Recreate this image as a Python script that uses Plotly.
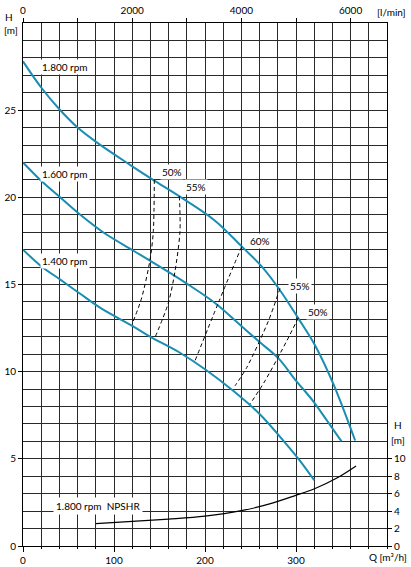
import plotly.graph_objects as go

# ---- data ----
q_1800 = [0, 20, 40, 60, 81, 118, 143, 172, 210, 240, 262, 282, 302, 321, 341, 365]
h_1800 = [27.8, 26.3, 25.05, 24.0, 23.15, 21.85, 21.0, 20.05, 18.7, 17.2, 16.05, 14.7, 13.1, 11.5, 9.3, 6.05]

q_1600 = [0, 20, 42, 63, 88, 121, 140, 180, 212, 235, 260, 281, 299, 319, 334, 350]
h_1600 = [22.0, 20.95, 19.95, 19.0, 18.0, 16.95, 16.35, 15.05, 13.9, 12.85, 11.7, 10.75, 9.55, 8.3, 7.2, 6.0]

q_1400 = [0, 20, 41, 62, 85, 121, 140, 172, 200, 231, 260, 290, 304, 320]
h_1400 = [17.0, 16.05, 15.28, 14.5, 13.66, 12.6, 12.0, 11.1, 10.14, 8.9, 7.57, 5.8, 4.91, 3.77]

q_npshr = [80, 120, 160, 200, 240, 270, 299, 321, 346, 366]
npshr = [2.57, 2.82, 3.08, 3.42, 4.05, 4.8, 5.78, 6.6, 7.85, 9.17]

eff_q = [
    [144.3, 143.2, 139.6, 130.4, 121.2],
    [171.8, 172.5, 167.0, 159.7, 145.0],
    [240.3, 214.6, 189.0],
    [282.4, 269.6, 245.8, 233.0],
    [302.5, 289.8, 265.9, 249.5],
]
eff_h = [
    [21.02, 18.04, 16.42, 14.23, 12.9],
    [20.07, 18.04, 15.75, 13.94, 11.95],
    [17.18, 13.94, 10.62],
    [14.78, 12.9, 10.23, 9.19],
    [13.09, 11.76, 9.47, 8.14],
]
eff_labels = ["50%", "55%", "60%", "55%", "50%"]
eff_label_q = [163.4, 190.0, 260.4, 304.4, 324.5]
eff_label_h = [21.46, 20.6, 17.52, 14.94, 13.43]

rpm_labels = ["1.800 rpm", "1.600 rpm", "1.400 rpm"]
rpm_label_q = [45.6, 46.0, 46.0]
rpm_label_h = [27.45, 21.33, 16.36]

x_tick_vals = [0, 100, 200, 300]
y_tick_vals = [0, 5, 10, 15, 20, 25]
top_tick_vals = [0, 2000, 4000, 6000]
right_tick_vals = [0, 2, 4, 6, 8, 10]

# ---- figure ----
FONT = "Lato"
TEAL = "#1a8db3"
GRID = "#2a2a2a"

fig = go.Figure()

for q, h in [(q_1800, h_1800), (q_1600, h_1600), (q_1400, h_1400)]:
    fig.add_trace(go.Scatter(x=q, y=h, mode="lines", line=dict(color=TEAL, width=2, shape="spline", smoothing=1.0),
                             hoverinfo="skip", showlegend=False))

for q, h in zip(eff_q, eff_h):
    fig.add_trace(go.Scatter(x=q, y=h, mode="lines", line=dict(color="black", width=1, dash="4px,3px", shape="spline", smoothing=0.8),
                             hoverinfo="skip", showlegend=False))

fig.add_trace(go.Scatter(x=q_npshr, y=npshr, mode="lines", yaxis="y2",
                         line=dict(color="black", width=1.2, shape="spline", smoothing=1.0),
                         hoverinfo="skip", showlegend=False))

# dummy trace to activate top axis
fig.add_trace(go.Scatter(x=[0, 6666.7], y=[0, 0], xaxis="x2", mode="lines", line=dict(width=0),
                         hoverinfo="skip", showlegend=False, opacity=0))

ann = []
for t, q, h in zip(rpm_labels, rpm_label_q, rpm_label_h):
    ann.append(dict(x=q, y=h, text=t, showarrow=False, bgcolor="white", borderpad=1,
                    font=dict(family=FONT, size=10, color="black")))
for t, q, h in zip(eff_labels, eff_label_q, eff_label_h):
    ann.append(dict(x=q, y=h, text=t, showarrow=False, bgcolor="white", borderpad=1,
                    font=dict(family=FONT, size=10, color="black")))
ann.append(dict(x=33, y=2.28, text="1.800 rpm  NPSHR", showarrow=False, xanchor="left", bgcolor="white", borderpad=2,
                font=dict(family=FONT, size=10, color="black")))

paper_labels = [
    ("H", -0.0385, 1.0115, "center"),
    ("[m]", -0.033, 0.9866, "center"),
    ("[l/min]", 1.013, 1.021, "center"),
    ("H", 1.0302, 0.2314, "center"),
    ("[m]", 1.0302, 0.2027, "center"),
    ("Q [m³/h]", 1.004, -0.021, "center"),
]
for t, x, y, xa in paper_labels:
    ann.append(dict(x=x, y=y, xref="paper", yref="paper", text=t, showarrow=False, xanchor=xa, yanchor="middle",
                    font=dict(family=FONT, size=10, color="black")))

fig.update_layout(
    width=411, height=567,
    margin=dict(l=23, r=24, t=23, b=21, autoexpand=False),
    paper_bgcolor="white", plot_bgcolor="white",
    font=dict(family=FONT, size=10, color="black"),
    annotations=ann,
    xaxis=dict(range=[0, 400], tickvals=x_tick_vals, ticks="outside", ticklen=5, tickcolor="black",
               showgrid=True, gridcolor=GRID, gridwidth=1, showline=True, linecolor="black", linewidth=1,
               zeroline=False, tickfont=dict(size=10), automargin=False,
               minor=dict(dtick=20, showgrid=True, gridcolor=GRID, gridwidth=1, ticks="outside", ticklen=2, tickcolor="black")),
    xaxis2=dict(range=[0, 400 * 1000 / 60], overlaying="x", side="top", tickvals=top_tick_vals, ticks="outside",
                ticklen=4, tickcolor="black", showgrid=False, showline=True, linecolor="black", zeroline=False,
                automargin=False,
                minor=dict(dtick=1000, ticks="outside", ticklen=4, tickcolor="black", showgrid=False),
                tickfont=dict(size=10)),
    yaxis=dict(range=[0, 30], tickvals=y_tick_vals, ticks="outside", ticklen=4, tickcolor="black",
               showgrid=True, gridcolor=GRID, gridwidth=1, showline=True, linecolor="black", zeroline=False,
               tickfont=dict(size=10), automargin=False,
               minor=dict(dtick=1, showgrid=True, gridcolor=GRID, gridwidth=1)),
    yaxis2=dict(range=[0, 60], overlaying="y", side="right", tickvals=right_tick_vals, ticks="outside", ticklen=4,
                tickcolor="black", showgrid=False, showline=True, linecolor="black", zeroline=False,
                tickfont=dict(size=10), automargin=False),
)

fig.write_html("out.html", config={"displayModeBar": False},
               post_script="document.body.style.margin='0';document.body.style.overflow='hidden';")
